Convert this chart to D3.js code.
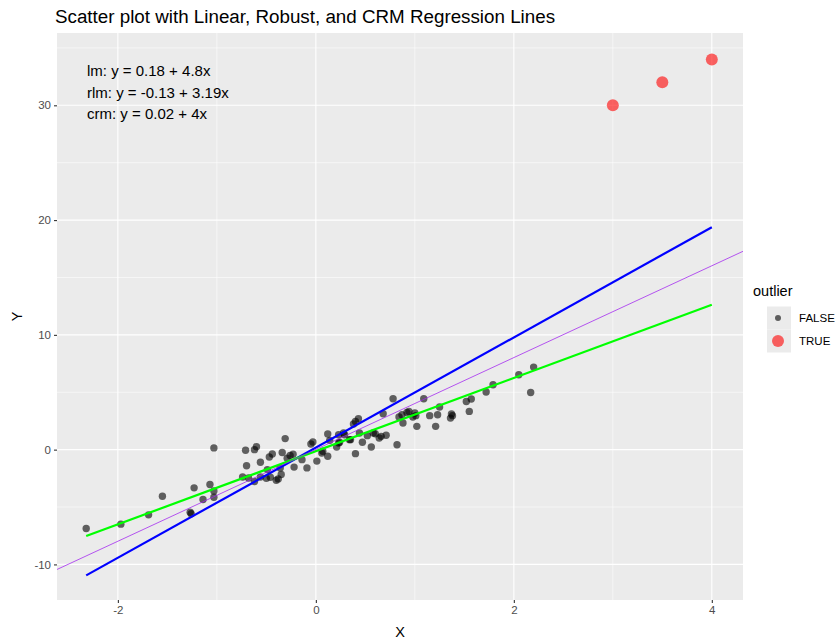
<!DOCTYPE html>
<html>
<head>
<meta charset="utf-8">
<script src="https://d3js.org/d3.v7.min.js"></script>
<style>
  body { margin: 0; background: #fff; }
  text { font-family: "Liberation Sans", Arial, sans-serif; }
</style>
</head>
<body>
<div id="scatter"></div>
<script>
// regular points (outlier == FALSE)
var xFalse = [-2.32, -1.97, -1.69, -1.55, -1.27, -1.26, -1.23, -1.14, -1.07, -1.03,
  -1.03, -1.03, -0.71, -0.62, -0.60, -0.31, -0.70, -0.56, -0.47, -0.44,
  -0.34, -0.26, -0.23, -0.29, -0.22, -0.14, -0.09, -0.05, -0.03, 0.01,
  -0.74, -0.68, -0.62, -0.56, -0.50, -0.46, -0.49, -0.40, -0.38, -0.35,
  -0.36, 0.12, 0.14, 0.23, 0.12, 0.07, 0.24, 0.29, 0.28, 0.34,
  0.38, 0.40, 0.43, 0.44, 0.40, 0.47, 0.52, 0.56, 0.60, 0.64,
  0.66, 0.71, 0.68, 0.78, 0.82, 0.84, 0.87, 0.88, 0.92, 0.94,
  0.98, 1.02, 1.00, 1.09, 1.01, 1.15, 1.23, 1.25, 1.21, 1.36,
  1.37, 1.38, 1.52, 1.57, 1.55, 1.72, 1.79, 2.05, 2.20, 2.17,
  0.06, 0.21, 0.23, 0.58, 0.35];
var yFalse = [-6.87, -6.49, -5.68, -4.06, -5.45, -5.58, -3.33, -4.35, -3.04, -3.60,
  -4.15, 0.15, -0.05, 0.00, 0.25, 0.96, -1.40, -1.10, -0.64, -0.38,
  -0.25, -0.50, -0.40, -0.75, -1.52, -0.87, -1.59, 0.49, 0.66, -1.00,
  -2.38, -2.47, -2.78, -2.38, -2.50, -2.40, -1.74, -2.67, -2.55, -2.17,
  -1.59, 1.36, 0.81, 1.30, -0.58, -0.14, 0.64, 1.30, 1.45, 0.87,
  2.23, 2.46, 2.70, 1.45, -0.35, 0.64, 1.22, 0.23, 1.39, 1.02,
  1.16, 1.25, 3.13, 4.43, 0.43, 2.84, 3.04, 2.32, 3.24, 3.33,
  2.84, 2.03, 3.19, 4.43, 2.96, 2.96, 3.04, 3.71, 2.03, 2.75,
  3.10, 2.96, 4.20, 4.41, 3.33, 5.02, 5.65, 6.52, 7.19, 4.98,
  -0.29, 0.23, 0.58, 1.45, 0.87];

// outliers (outlier == TRUE)
var xTrue = [3, 3.5, 4];
var yTrue = [30, 32, 34];

// regression fits: intercept, slope, as printed in the top-left
var fitNames = ["lm", "rlm", "crm"];
var fitIntercepts = [0.18, -0.13, 0.02];
var fitSlopes = [4.8, 3.19, 4];
var fitLabels = ["lm: y = 0.18 + 4.8x", "rlm: y = -0.13 + 3.19x", "crm: y = 0.02 + 4x"];

var xTicks = [-2, 0, 2, 4];
var xMinor = [-1, 1, 3];
var yTicks = [-10, 0, 10, 20, 30];
var yMinor = [-5, 5, 15, 25, 35];

var svgWidth = 837;
var svgHeight = 642;

var margin = { top: 33, right: 94, bottom: 42, left: 57 };
var width = svgWidth - margin.left - margin.right;
var height = svgHeight - margin.top - margin.bottom;

var svg = d3.select("#scatter")
  .append("svg")
  .attr("width", svgWidth)
  .attr("height", svgHeight);

var chartGroup = svg.append("g")
  .attr("transform", `translate(${margin.left}, ${margin.top})`);

// scales (ggplot adds 5% on each side)
var xLinearScale = d3.scaleLinear()
  .domain([-2.615, 4.315])
  .range([0, width]);

var yLinearScale = d3.scaleLinear()
  .domain([-13.1, 36.3])
  .range([height, 0]);

// panel + grid
chartGroup.append("rect")
  .attr("width", width)
  .attr("height", height)
  .attr("fill", "#EBEBEB");

chartGroup.selectAll(".xminor").data(xMinor).enter().append("line")
  .attr("x1", d => xLinearScale(d)).attr("x2", d => xLinearScale(d))
  .attr("y1", 0).attr("y2", height)
  .attr("stroke", "#fff").attr("stroke-width", 0.55);
chartGroup.selectAll(".yminor").data(yMinor).enter().append("line")
  .attr("y1", d => yLinearScale(d)).attr("y2", d => yLinearScale(d))
  .attr("x1", 0).attr("x2", width)
  .attr("stroke", "#fff").attr("stroke-width", 0.55);
chartGroup.selectAll(".xmajor").data(xTicks).enter().append("line")
  .attr("x1", d => xLinearScale(d)).attr("x2", d => xLinearScale(d))
  .attr("y1", 0).attr("y2", height)
  .attr("stroke", "#fff").attr("stroke-width", 1.1);
chartGroup.selectAll(".ymajor").data(yTicks).enter().append("line")
  .attr("y1", d => yLinearScale(d)).attr("y2", d => yLinearScale(d))
  .attr("x1", 0).attr("x2", width)
  .attr("stroke", "#fff").attr("stroke-width", 1.1);

// axes - plain hyphen minus like R prints it
var bottomAxis = d3.axisBottom(xLinearScale).tickValues(xTicks)
  .tickFormat(d => String(d)).tickSize(3).tickPadding(3);
var leftAxis = d3.axisLeft(yLinearScale).tickValues(yTicks)
  .tickFormat(d => String(d)).tickSize(3).tickPadding(3);

var gx = chartGroup.append("g")
  .attr("transform", `translate(0, ${height})`)
  .call(bottomAxis);
var gy = chartGroup.append("g").call(leftAxis);

[gx, gy].forEach(function(g) {
  g.select(".domain").remove();
  g.selectAll(".tick line").attr("stroke", "#333").attr("stroke-width", 1.1);
  g.selectAll(".tick text")
    .attr("fill", "#4D4D4D")
    .style("font-size", "11.5px")
    .style("font-family", "Liberation Sans, Arial, sans-serif");
});

// points
var pts = xFalse.map((x, i) => ({ x: x, y: yFalse[i] }));
var outs = xTrue.map((x, i) => ({ x: x, y: yTrue[i] }));

chartGroup.selectAll(".pt").data(pts).enter().append("circle")
  .attr("cx", d => xLinearScale(d.x))
  .attr("cy", d => yLinearScale(d.y))
  .attr("r", 3.7)
  .attr("fill", "#000")
  .attr("opacity", 0.6);

chartGroup.selectAll(".out").data(outs).enter().append("circle")
  .attr("cx", d => xLinearScale(d.x))
  .attr("cy", d => yLinearScale(d.y))
  .attr("r", 6)
  .attr("fill", "#FF0000")
  .attr("opacity", 0.6);

// regression lines
svg.append("clipPath").attr("id", "panel")
  .append("rect").attr("width", width).attr("height", height);

var allX = xFalse.concat(xTrue);
var dataExtent = d3.extent(allX);
var fitColors = ["#0000FF", "#00FF00", "#A020F0"];
var fitWidths = [2.2, 2.2, 1];
var fitOpacity = [1, 1, 0.75];

fitNames.forEach(function(name, i) {
  // lm and rlm are geom_smooth over the data range, crm is an abline across the panel
  var xs = name === "crm" ? xLinearScale.domain() : dataExtent;
  chartGroup.append("line")
    .attr("clip-path", "url(#panel)")
    .attr("x1", xLinearScale(xs[0]))
    .attr("y1", yLinearScale(fitIntercepts[i] + fitSlopes[i] * xs[0]))
    .attr("x2", xLinearScale(xs[1]))
    .attr("y2", yLinearScale(fitIntercepts[i] + fitSlopes[i] * xs[1]))
    .attr("stroke", fitColors[i])
    .attr("stroke-width", fitWidths[i])
    .attr("stroke-opacity", fitOpacity[i]);
});

// equations
chartGroup.selectAll(".eq").data(fitLabels).enter().append("text")
  .attr("x", 30)
  .attr("y", (d, i) => 43 + i * 21.7)
  .attr("fill", "#000")
  .style("font-size", "15px")
  .text(d => d);

// titles
svg.append("text")
  .attr("x", 55)
  .attr("y", 23)
  .style("font-size", "18.8px")
  .attr("fill", "#000")
  .text("Scatter plot with Linear, Robust, and CRM Regression Lines");

svg.append("text")
  .attr("x", margin.left + width / 2)
  .attr("y", 637)
  .attr("text-anchor", "middle")
  .style("font-size", "14.5px")
  .text("X");

svg.append("text")
  .attr("transform", `translate(22, ${margin.top + height / 2}) rotate(-90)`)
  .attr("text-anchor", "middle")
  .style("font-size", "14.5px")
  .text("Y");

// legend
var legend = svg.append("g").attr("transform", "translate(753, 0)");
legend.append("text")
  .attr("x", 0).attr("y", 296)
  .style("font-size", "14.5px")
  .text("outlier");

var legendKeys = ["FALSE", "TRUE"];
var legendR = [3, 6];
var legendFill = ["#000", "#FF0000"];
legendKeys.forEach(function(k, i) {
  var cy = 318 + i * 23;
  legend.append("rect")
    .attr("x", 14).attr("y", cy - 11.5)
    .attr("width", 24).attr("height", 23)
    .attr("fill", "#EBEBEB");
  legend.append("circle")
    .attr("cx", 25).attr("cy", cy)
    .attr("r", legendR[i])
    .attr("fill", legendFill[i])
    .attr("opacity", 0.6);
  legend.append("text")
    .attr("x", 46).attr("y", cy + 4)
    .attr("fill", "#000")
    .style("font-size", "11.5px")
    .text(k);
});
</script>
</body>
</html>
